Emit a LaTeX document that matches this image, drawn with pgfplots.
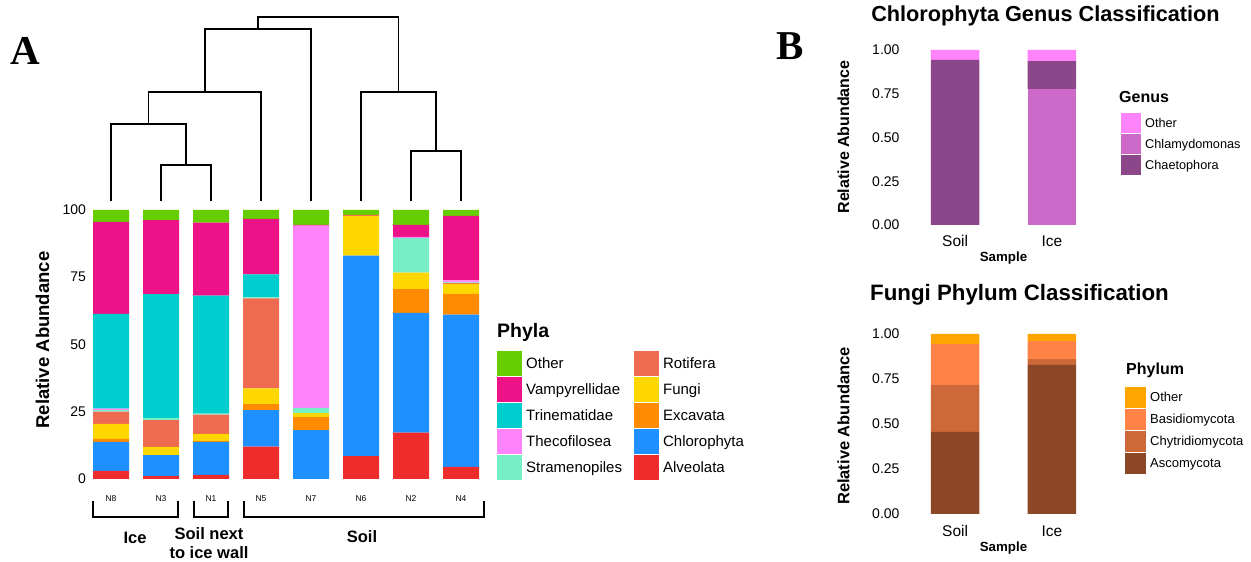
\documentclass[border=0pt]{standalone}
\usepackage{fontspec}
\setmainfont{Liberation Sans}
\newfontfamily\seriffont{Liberation Serif}
\usepackage{pgfplots}
\usepackage{pgfplotstable}
\pgfplotsset{compat=1.18}
\definecolor{cOth}{HTML}{66CD00}
\definecolor{cVam}{HTML}{EE1289}
\definecolor{cTri}{HTML}{00CDCD}
\definecolor{cThe}{HTML}{FF83FA}
\definecolor{cStr}{HTML}{76EEC6}
\definecolor{cRot}{HTML}{EE6A50}
\definecolor{cFun}{HTML}{FFD700}
\definecolor{cExc}{HTML}{FF8C00}
\definecolor{cChl}{HTML}{1E90FF}
\definecolor{cAlv}{HTML}{EE2C2C}
\definecolor{gOth}{HTML}{FF83FA}
\definecolor{gChla}{HTML}{CD69C9}
\definecolor{gChae}{HTML}{8B4789}
\definecolor{fOth}{HTML}{FFA500}
\definecolor{fBas}{HTML}{FF8247}
\definecolor{fChy}{HTML}{CD6839}
\definecolor{fAsc}{HTML}{8B4726}

\pgfplotstableread{
x Alv Chl Exc Fun Rot Str The Tri Vam Oth
0 3.0 10.8 1.1 5.6 4.5 0.6 0.6 35.2 34.2 4.4
1 1.1 7.8 0.0 3.0 10.0 0.7 0.0 46.1 27.5 3.8
2 1.5 12.3 0.4 2.6 7.1 0.4 0.0 43.9 27.1 4.7
3 12.0 13.6 2.2 5.9 33.4 0.4 0.0 8.6 20.6 3.3
4 0.0 18.2 4.8 1.5 0.0 1.9 67.8 0.0 0.3 5.5
5 8.5 74.5 0.0 14.8 0.4 0.0 0.0 0.0 0.0 1.8
6 17.2 44.6 8.8 6.1 0.0 12.9 0.4 0.0 4.5 5.5
7 4.5 56.6 7.7 3.7 0.3 0.3 0.7 0.0 24.0 2.2
}\phyla

\pgfplotstableread{
x Chla Chae Oth
1 0.000 0.943 0.057
2 0.777 0.160 0.063
}\chloro

\pgfplotstableread{
x Asc Chy Bas Oth
1 0.456 0.261 0.227 0.056
2 0.828 0.033 0.100 0.039
}\fungi

\pgfplotsset{
  bstyle/.style={
    scale only axis, width=213pt,
    xmin=0.4, xmax=2.6, ymin=0, ymax=1, enlargelimits=false,
    ybar stacked, bar width=0.5,
    axis line style={draw=none}, tick style={draw=none},
    xtick={1,2}, xticklabels={Soil,Ice},
    ytick={0,0.25,0.5,0.75,1},
    yticklabel style={/pgf/number format/fixed,/pgf/number format/fixed zerofill,/pgf/number format/precision=2,
      font=\fontsize{14}{16}\selectfont, xshift=6pt},
    /pgf/number format/assume math mode=true,
    clip=false,
  },
  legax/.style={
    scale only axis, width=10pt, height=10pt, anchor=north west,
    hide axis, xmin=0, xmax=1, ymin=0, ymax=1,
    legend cell align=left,
  },
  dend/.style={black, line width=1.7pt, line join=miter, mark=none},
}

\begin{document}
\begin{tikzpicture}[x=1pt,y=1pt]
\path[use as bounding box] (0,0) rectangle (1251,562);

% ---------------- Panel A: stacked bars ----------------
\begin{axis}[
  at={(88pt,83pt)}, anchor=south west, scale only axis,
  width=397pt, height=269pt,
  xmin=-0.46, xmax=7.48, ymin=0, ymax=100, enlargelimits=false,
  ybar stacked, bar width=0.72,
  axis line style={draw=none}, tick style={draw=none},
  xtick={0,...,7}, xticklabels={N8,N3,N1,N5,N7,N6,N2,N4},
  xticklabel style={font=\fontsize{8.5}{10}\selectfont, yshift=-13pt},
  ytick={0,25,50,75,100},
  yticklabel style={font=\fontsize{14}{16}\selectfont, xshift=1.5pt},
  /pgf/number format/assume math mode=true,
  clip=false,
]
\addplot[fill=cAlv, draw=none] table[x=x,y=Alv]{\phyla};
\addplot[fill=cChl, draw=none] table[x=x,y=Chl]{\phyla};
\addplot[fill=cExc, draw=none] table[x=x,y=Exc]{\phyla};
\addplot[fill=cFun, draw=none] table[x=x,y=Fun]{\phyla};
\addplot[fill=cRot, draw=none] table[x=x,y=Rot]{\phyla};
\addplot[fill=cStr, draw=none] table[x=x,y=Str]{\phyla};
\addplot[fill=cThe, draw=none] table[x=x,y=The]{\phyla};
\addplot[fill=cTri, draw=none] table[x=x,y=Tri]{\phyla};
\addplot[fill=cVam, draw=none] table[x=x,y=Vam]{\phyla};
\addplot[fill=cOth, draw=none] table[x=x,y=Oth]{\phyla};
\end{axis}

% ---------------- Panel A: dendrogram + brackets ----------------
\begin{axis}[
  at={(88pt,361pt)}, anchor=south west, scale only axis,
  width=397pt, height=184pt,
  xmin=-0.46, xmax=7.48, ymin=0, ymax=184, enlargelimits=false,
  hide axis, clip=false,
]
\addplot[dend] coordinates {(1,0) (1,36) (2,36) (2,0)};
\addplot[dend] coordinates {(0,0) (0,77) (1.5,77) (1.5,36)};
\addplot[dend] coordinates {(0.75,77) (0.75,109) (3,109) (3,0)};
\addplot[dend] coordinates {(1.875,109) (1.875,172) (4,172) (4,0)};
\addplot[dend] coordinates {(6,0) (6,50) (7,50) (7,0)};
\addplot[dend] coordinates {(5,0) (5,109) (6.5,109) (6.5,50)};
\addplot[dend] coordinates {(2.9375,172) (2.9375,184) (5.75,184) (5.75,109)};
% brackets below the bars
\addplot[dend, line width=1.4pt] coordinates {(-0.36,-300) (-0.36,-316) (1.34,-316) (1.34,-300)};
\addplot[dend, line width=1.4pt] coordinates {(1.66,-300) (1.66,-316) (2.34,-316) (2.34,-300)};
\addplot[dend, line width=1.4pt] coordinates {(2.66,-300) (2.66,-316) (7.46,-316) (7.46,-300)};
\end{axis}

% group labels
\node[font=\bfseries\fontsize{16.5}{19}\selectfont] at (135,24) {Ice};
\node[font=\bfseries\fontsize{16.5}{19}\selectfont, align=center] at (209,19) {Soil next\\to ice wall};
\node[font=\bfseries\fontsize{16.5}{19}\selectfont] at (362,25) {Soil};
\node[font=\bfseries\fontsize{18.5}{20}\selectfont, rotate=90] at (42.5,222) {Relative Abundance};

% Panel A legend
\node[font=\bfseries\fontsize{19.5}{22}\selectfont, anchor=west, inner sep=0pt] at (497,229.5) {Phyla};
\begin{axis}[legax, at={(497pt,211pt)},
  legend columns=2,
  legend style={at={(0,1)}, anchor=north west, draw=none, fill=none, inner sep=0pt,
    row sep=1pt, column sep=4pt, nodes={inner sep=0pt},
    font=\fontsize{15}{18}\selectfont,
    /tikz/every even column/.append style={column sep=12pt}},
  legend image code/.code={\path[#1, draw=none] (0pt,-12.5pt) rectangle (25pt,12.5pt);},
]
\addlegendimage{fill=cOth}\addlegendentry{Other}
\addlegendimage{fill=cRot}\addlegendentry{Rotifera}
\addlegendimage{fill=cVam}\addlegendentry{Vampyrellidae}
\addlegendimage{fill=cFun}\addlegendentry{Fungi}
\addlegendimage{fill=cTri}\addlegendentry{Trinematidae}
\addlegendimage{fill=cExc}\addlegendentry{Excavata}
\addlegendimage{fill=cThe}\addlegendentry{Thecofilosea}
\addlegendimage{fill=cChl}\addlegendentry{Chlorophyta}
\addlegendimage{fill=cStr}\addlegendentry{Stramenopiles}
\addlegendimage{fill=cAlv}\addlegendentry{Alveolata}
\end{axis}

% panel letters
\node[font=\seriffont\bfseries\fontsize{41}{44}\selectfont, inner sep=0pt] at (25.5,511.5) {A};
\node[font=\seriffont\bfseries\fontsize{41}{44}\selectfont, inner sep=0pt] at (790,516) {B};

% ---------------- Panel B top ----------------
\node[font=\bfseries\fontsize{21.7}{24}\selectfont] at (1045.5,546) {Chlorophyta Genus Classification};
\begin{axis}[bstyle, at={(897pt,337pt)}, anchor=south west, height=175pt,
  xticklabel style={font=\fontsize{15.5}{18}\selectfont, yshift=-7pt}]
\addplot[fill=gChla, draw=none] table[x=x,y=Chla]{\chloro};
\addplot[fill=gChae, draw=none] table[x=x,y=Chae]{\chloro};
\addplot[fill=gOth, draw=none] table[x=x,y=Oth]{\chloro};
\end{axis}
\node[font=\bfseries\fontsize{16}{18}\selectfont, rotate=90] at (843.5,425) {Relative Abundance};
\node[font=\bfseries\fontsize{13.3}{15}\selectfont] at (1003.5,304) {Sample};
\node[font=\bfseries\fontsize{16}{18}\selectfont, anchor=west, inner sep=0pt] at (1119,465) {Genus};
\begin{axis}[legax, at={(1121pt,449pt)},
  legend style={at={(0,1)}, anchor=north west, draw=none, fill=none, inner sep=0pt,
    row sep=1pt, column sep=4pt, nodes={inner sep=0pt},
    font=\fontsize{12.7}{15}\selectfont},
  legend image code/.code={\path[#1, draw=none] (0pt,-10pt) rectangle (20pt,10pt);},
]
\addlegendimage{fill=gOth}\addlegendentry{Other}
\addlegendimage{fill=gChla}\addlegendentry{Chlamydomonas}
\addlegendimage{fill=gChae}\addlegendentry{Chaetophora}
\end{axis}

% ---------------- Panel B bottom ----------------
\node[font=\bfseries\fontsize{22.3}{25}\selectfont] at (1019.5,267) {Fungi Phylum Classification};
\begin{axis}[bstyle, at={(897pt,48pt)}, anchor=south west, height=180pt,
  xticklabel style={font=\fontsize{15.5}{18}\selectfont, yshift=-8pt}]
\addplot[fill=fAsc, draw=none] table[x=x,y=Asc]{\fungi};
\addplot[fill=fChy, draw=none] table[x=x,y=Chy]{\fungi};
\addplot[fill=fBas, draw=none] table[x=x,y=Bas]{\fungi};
\addplot[fill=fOth, draw=none] table[x=x,y=Oth]{\fungi};
\end{axis}
\node[font=\bfseries\fontsize{16.5}{18}\selectfont, rotate=90] at (843.5,136) {Relative Abundance};
\node[font=\bfseries\fontsize{13.3}{15}\selectfont] at (1003.5,14) {Sample};
\node[font=\bfseries\fontsize{16}{18}\selectfont, anchor=west, inner sep=0pt] at (1126,192) {Phylum};
\begin{axis}[legax, at={(1125pt,175pt)},
  legend style={at={(0,1)}, anchor=north west, draw=none, fill=none, inner sep=0pt,
    row sep=1pt, column sep=4pt, nodes={inner sep=0pt},
    font=\fontsize{13}{15}\selectfont},
  legend image code/.code={\path[#1, draw=none] (0pt,-10.5pt) rectangle (21pt,10.5pt);},
]
\addlegendimage{fill=fOth}\addlegendentry{Other}
\addlegendimage{fill=fBas}\addlegendentry{Basidiomycota}
\addlegendimage{fill=fChy}\addlegendentry{Chytridiomycota}
\addlegendimage{fill=fAsc}\addlegendentry{Ascomycota}
\end{axis}

\end{tikzpicture}
\end{document}
